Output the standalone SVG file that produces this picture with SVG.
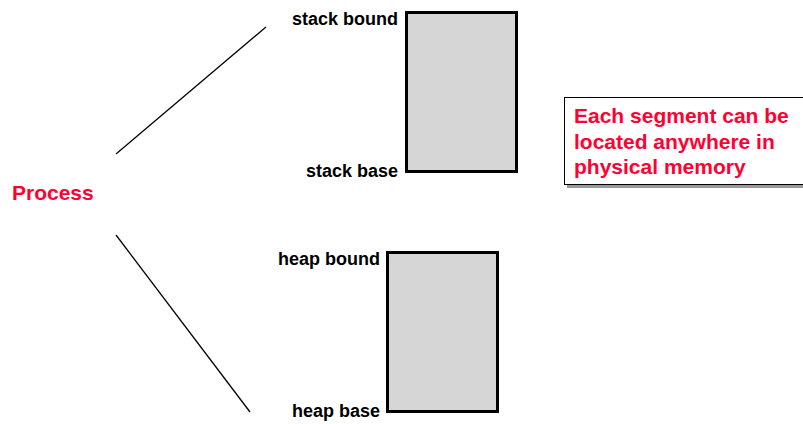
<svg xmlns="http://www.w3.org/2000/svg" width="803" height="424" viewBox="0 0 803 424">
<style>
.lbl{font-family:"Liberation Sans",Arial,sans-serif;font-weight:bold;font-size:18px;fill:#000;text-anchor:end}
.red{font-family:"Liberation Sans",Arial,sans-serif;font-weight:bold;font-size:21px;fill:#ff0033}
.seg{fill:#d6d6d6;stroke:#000;stroke-width:3}
.conn{stroke:#000;stroke-width:1.3;fill:none}
</style>
<rect width="803" height="424" fill="#fff"/>
<g id="process"><text class="red" x="12" y="200">Process</text></g>
<g id="connectors">
<line class="conn" x1="116" y1="154" x2="266" y2="27"/>
<line class="conn" x1="116" y1="235" x2="250" y2="412"/>
</g>
<g id="stack">
<rect class="seg" x="406.5" y="12.5" width="110" height="159"/>
<text class="lbl" x="398" y="25">stack bound</text>
<text class="lbl" x="398" y="177">stack base</text>
</g>
<g id="heap">
<rect class="seg" x="387.5" y="252.5" width="110" height="159"/>
<text class="lbl" x="380" y="265">heap bound</text>
<text class="lbl" x="380" y="417">heap base</text>
</g>
<g id="note">
<rect x="567" y="100" width="240" height="88" fill="#999"/>
<rect x="564.5" y="97.5" width="242" height="87" fill="#fff" stroke="#000" stroke-width="1"/>
<text class="red" x="574" y="123">Each segment can be</text>
<text class="red" x="574" y="149">located anywhere in</text>
<text class="red" x="574" y="174">physical memory</text>
</g>
</svg>
